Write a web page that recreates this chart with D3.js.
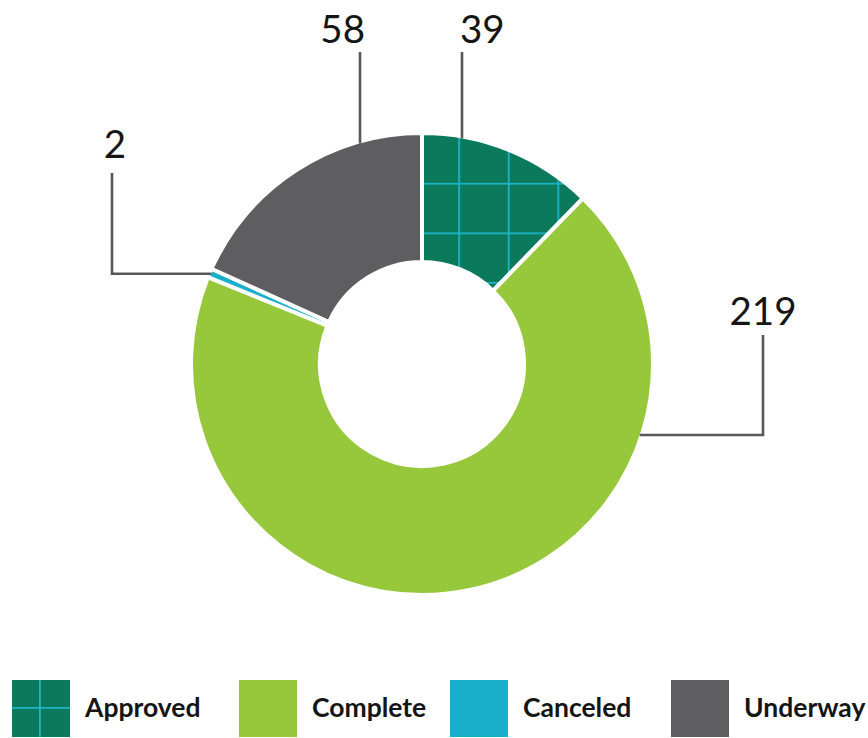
<!DOCTYPE html>
<html>
<head>
<meta charset="utf-8">
<script src="https://cdn.jsdelivr.net/npm/d3@7"></script>
<style>
  html, body { margin: 0; padding: 0; background: #ffffff; }
  svg { display: block; }
</style>
</head>
<body>
<svg id="chart" width="868" height="738"></svg>
<script>
// ---- data ----
const categories = ["Approved", "Complete", "Canceled", "Underway"];
const values = [39, 219, 2, 58];
const colors = ["#0b7a5c", "#97c83c", "#1aaecd", "#5e5e60"];
const gridColor = "#1cb4c8";

// ---- layout ----
const W = 868, H = 738;
const cx = 422, cy = 364;
const outerR = 231, innerR = 102;
const visR = 229; // visible outer edge (after white stroke)
const legendX = [12, 239, 450, 671];
const legendY = 680, swatch = 57;

const svg = d3.select("#chart");
const defs = svg.append("defs");

function makePattern(id, x0, y0) {
  const p = defs.append("pattern")
    .attr("id", id)
    .attr("patternUnits", "userSpaceOnUse")
    .attr("x", x0).attr("y", y0)
    .attr("width", 49.6).attr("height", 49.6);
  p.append("rect").attr("width", 49.6).attr("height", 49.6).attr("fill", colors[0]);
  p.append("path")
    .attr("d", "M0.9,0V49.6M0,0.9H49.6")
    .attr("stroke", gridColor).attr("stroke-width", 1.8).attr("fill", "none");
}
makePattern("approvedPat", 433, 166);
makePattern("approvedLegendPat", 39, 707);

function fillFor(i, legend) {
  if (i === 0) return legend ? "url(#approvedLegendPat)" : "url(#approvedPat)";
  return colors[i];
}

const data = categories.map((c, i) => ({ cat: c, value: values[i], i }));

const pie = d3.pie().value(d => d.value).sort(null);
const arcs = pie(data);
const arc = d3.arc().innerRadius(innerR).outerRadius(outerR);

const g = svg.append("g").attr("transform", `translate(${cx},${cy})`);

g.selectAll("path.slice")
  .data(arcs)
  .join("path")
  .attr("class", "slice")
  .attr("d", arc)
  .attr("fill", d => fillFor(d.data.i, false))
  .attr("stroke", "#ffffff")
  .attr("stroke-width", 4)
  .attr("stroke-linejoin", "miter");

// ---- leader lines & labels ----
function onArcAtX(x, sign) { return [x, sign * Math.sqrt(visR * visR - x * x)]; }
function onArcAtY(y, sign) { return [sign * Math.sqrt(visR * visR - y * y), y]; }
function onArcAtAngle(a) { return [visR * Math.sin(a), -visR * Math.cos(a)]; }

const leaders = {
  "Approved": { pts: () => { const p = onArcAtX(40, -1); return [p, [40, -312]]; }, tx: 38, ty: -321, anchor: "start" },
  "Underway": { pts: () => { const p = onArcAtX(-62, -1); return [p, [-62, -312]]; }, tx: -57, ty: -321, anchor: "end" },
  "Canceled": { pts: (d) => { const a = (d.startAngle + d.endAngle) / 2; const p = onArcAtAngle(a); return [p, [-310, p[1]], [-310, -191]]; }, tx: -307, ty: -206, anchor: "middle" },
  "Complete": { pts: () => { const p = onArcAtY(71, 1); return [p, [341, 71], [341, -29]]; }, tx: 341, ty: -39, anchor: "middle" }
};

const line = d3.line();
arcs.forEach(d => {
  const L = leaders[d.data.cat];
  g.append("path")
    .attr("d", line(L.pts(d)))
    .attr("fill", "none")
    .attr("stroke", "#58585a")
    .attr("stroke-width", 2.6);
  g.append("text")
    .attr("x", L.tx).attr("y", L.ty)
    .attr("text-anchor", L.anchor)
    .attr("font-family", "Lato, 'Open Sans', sans-serif")
    .attr("font-size", 38.5)
    .attr("fill", "#151515")
    .text(d3.format("d")(d.data.value));
});

// ---- legend ----
const lg = svg.append("g");
data.forEach((d, i) => {
  lg.append("rect")
    .attr("x", legendX[i]).attr("y", legendY)
    .attr("width", swatch + 1).attr("height", swatch)
    .attr("fill", fillFor(i, true));
  lg.append("text")
    .attr("x", legendX[i] + swatch + 16)
    .attr("y", legendY + 37)
    .attr("font-family", "Lato, 'Open Sans', sans-serif")
    .attr("font-weight", 700)
    .attr("font-size", 26.5)
    .attr("fill", "#151515")
    .text(d.cat);
});
</script>
</body>
</html>
